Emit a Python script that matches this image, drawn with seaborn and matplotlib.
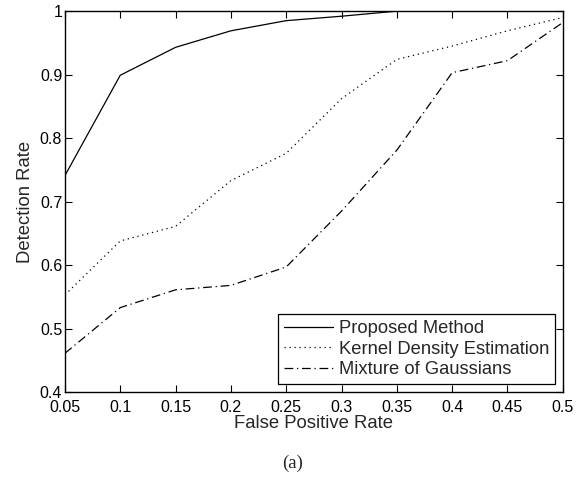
#!/usr/bin/env python3
import pandas as pd
import matplotlib
matplotlib.use('Agg')
import matplotlib.pyplot as plt
import seaborn as sns

# values
fpr = [0.05, 0.1, 0.15, 0.2, 0.25, 0.3, 0.35, 0.4, 0.45, 0.5]
proposed = [0.741, 0.899, 0.943, 0.969, 0.985, 0.992, 1.0, 1.0, 1.0, 1.0]
kde = [0.553, 0.638, 0.661, 0.733, 0.776, 0.862, 0.924, 0.945, 0.969, 0.99]
mog = [0.461, 0.533, 0.561, 0.568, 0.597, 0.685, 0.781, 0.903, 0.922, 0.982]
names = ['Proposed Method', 'Kernel Density Estimation', 'Mixture of Gaussians']
x_ticks = [0.05, 0.1, 0.15, 0.2, 0.25, 0.3, 0.35, 0.4, 0.45, 0.5]
y_ticks = [0.4, 0.5, 0.6, 0.7, 0.8, 0.9, 1.0]

df = pd.DataFrame({
    'fpr': fpr * 3,
    'rate': proposed + kde + mog,
    'method': [n for n in names for _ in fpr],
})

sns.set_style('ticks')
plt.rcParams['font.family'] = ['Liberation Sans', 'DejaVu Sans']

fig = plt.figure(figsize=(5.85, 4.84), dpi=100)
ax = fig.add_axes([0.111, 0.19, 0.851, 0.787])

dashes = {
    names[0]: '',
    names[1]: (1, 3),
    names[2]: (7, 3, 1, 3),
}
sns.lineplot(data=df, x='fpr', y='rate', style='method', style_order=names,
             dashes=dashes, color='black', linewidth=0.9, ax=ax)

ax.set_xlim(0.05, 0.5)
ax.set_ylim(0.4, 1.0)
ax.set_xticks(x_ticks)
ax.set_xticklabels(['%g' % v for v in x_ticks])
ax.set_yticks(y_ticks)
ax.set_yticklabels(['%g' % v for v in y_ticks])
ax.tick_params(direction='in', top=True, right=True, length=5, width=0.8,
               labelsize=11.5, colors='black')
ax.tick_params(axis='x', pad=5.5)
ax.tick_params(axis='y', pad=2)
for s in ax.spines.values():
    s.set_visible(True)
    s.set_linewidth(1.0)
    s.set_color('black')

ax.set_xlabel('False Positive Rate', fontsize=13.3, labelpad=0)
ax.set_ylabel('Detection Rate', fontsize=13.3, labelpad=4)

leg = ax.legend(loc='lower right', fontsize=13.2, frameon=True, fancybox=False,
                framealpha=1, edgecolor='black', handlelength=2.7,
                borderpad=0.3, labelspacing=0.2, handletextpad=0.3,
                borderaxespad=0.45)
leg.get_frame().set_linewidth(0.9)
for h in leg.get_lines():
    h.set_linewidth(0.9)

fig.text(0.5, 0.043, '(a)', ha='center', va='center', fontsize=13.5,
         family=['Liberation Serif', 'DejaVu Serif'])

fig.savefig('out.png', dpi=100)
